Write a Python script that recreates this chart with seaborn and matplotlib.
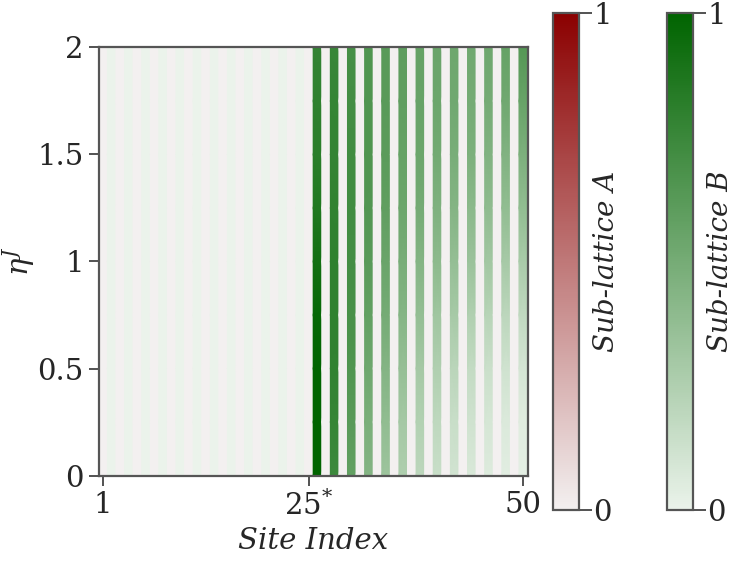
import numpy as np
import matplotlib
matplotlib.use("Agg")
import matplotlib.pyplot as plt
import seaborn as sns
from matplotlib.colors import Normalize
from matplotlib.cm import ScalarMappable

# Chain layout: 50 sites, sub-lattice A on odd sites, B on even sites
n_sites = 50
sites = np.arange(1, n_sites + 1)
sublattice_a_sites = sites[sites % 2 == 1]
sublattice_b_sites = sites[sites % 2 == 0]
edge_sites = [26, 28, 30, 32, 34, 36, 38, 40, 42, 44, 46, 48, 50]

# Coupling strength levels
eta_levels = [0.0, 0.25, 0.5, 0.75, 1.0, 1.25, 1.5, 1.75, 2.0]

# Normalised weight on sub-lattice B for the edge_sites, one row per eta level
weight_eta_000 = [1.00, 0.74, 0.58, 0.44, 0.33, 0.26, 0.20, 0.15, 0.11, 0.08, 0.06, 0.04, 0.03]
weight_eta_025 = [1.00, 0.77, 0.62, 0.48, 0.38, 0.30, 0.24, 0.19, 0.15, 0.12, 0.09, 0.07, 0.05]
weight_eta_050 = [1.00, 0.79, 0.66, 0.53, 0.44, 0.36, 0.30, 0.25, 0.21, 0.17, 0.14, 0.12, 0.10]
weight_eta_075 = [0.97, 0.80, 0.69, 0.58, 0.50, 0.43, 0.37, 0.32, 0.29, 0.25, 0.22, 0.20, 0.18]
weight_eta_100 = [0.92, 0.80, 0.71, 0.62, 0.55, 0.49, 0.44, 0.40, 0.37, 0.34, 0.31, 0.29, 0.28]
weight_eta_125 = [0.86, 0.79, 0.72, 0.65, 0.59, 0.54, 0.50, 0.46, 0.44, 0.41, 0.39, 0.38, 0.38]
weight_eta_150 = [0.82, 0.78, 0.72, 0.66, 0.61, 0.57, 0.54, 0.51, 0.49, 0.47, 0.45, 0.45, 0.47]
weight_eta_175 = [0.80, 0.77, 0.71, 0.66, 0.62, 0.59, 0.56, 0.54, 0.52, 0.50, 0.50, 0.52, 0.56]
weight_eta_200 = [0.78, 0.76, 0.70, 0.66, 0.62, 0.60, 0.57, 0.55, 0.53, 0.52, 0.53, 0.57, 0.64]

weight_rows = [weight_eta_000, weight_eta_025, weight_eta_050, weight_eta_075,
               weight_eta_100, weight_eta_125, weight_eta_150, weight_eta_175,
               weight_eta_200]

x_tick_sites = [1, 25, 50]
x_tick_labels = ["1", "25$^{*}$", "50"]
y_ticks = [0, 0.5, 1, 1.5, 2]
y_tick_labels = ["0", "0.5", "1", "1.5", "2"]

# Weight tables (eta x site) for both sub-lattices
eta = np.array(eta_levels)
weights_a = np.zeros((len(eta), n_sites))
weights_b = np.zeros((len(eta), n_sites))
for col, s in enumerate(edge_sites):
    weights_b[:, s - 1] = [row[col] for row in weight_rows]

sns.set_style("ticks")
plt.rcParams["font.family"] = ["DejaVu Serif"]
plt.rcParams["mathtext.fontset"] = "dejavuserif"

cmap_a = sns.light_palette("darkred", as_cmap=True)
cmap_b = sns.light_palette("darkgreen", as_cmap=True)
norm = Normalize(vmin=0, vmax=1)

fig = plt.figure(figsize=(7.33, 5.62), dpi=100)
ax = fig.add_axes([0.1348, 0.1539, 0.5849, 0.7616])
ax.set_facecolor(cmap_a(0.0))

# Each site is its own column; colours blend smoothly along eta
for s in sites:
    vals = weights_a[:, s - 1] if s in sublattice_a_sites else weights_b[:, s - 1]
    cmap = cmap_a if s in sublattice_a_sites else cmap_b
    X = np.column_stack([np.full_like(eta, s - 0.5), np.full_like(eta, s + 0.5)])
    Y = np.column_stack([eta, eta])
    C = np.column_stack([vals, vals])
    ax.pcolormesh(X, Y, C, cmap=cmap, norm=norm, shading="gouraud",
                  antialiased=False, rasterized=True)

ax.set_xlim(0.5, n_sites + 0.5)
ax.set_ylim(0, 2)
ax.set_xticks(x_tick_sites)
ax.set_xticklabels(x_tick_labels)
ax.set_yticks(y_ticks)
ax.set_yticklabels(y_tick_labels)
ax.tick_params(labelsize=21, length=7, width=1.3, color="#444444", pad=4)
for sp in ax.spines.values():
    sp.set_visible(True)
    sp.set_color("#555555")
    sp.set_linewidth(1.6)
ax.set_xlabel("Site Index", fontsize=21, style="italic", labelpad=4)
ax.set_ylabel(r"$\eta^{J}$", fontsize=21, labelpad=0)

# Colour bars for the two sub-lattices
def add_bar(x0, cmap, label):
    cax = fig.add_axes([x0, 0.0925, 0.036, 0.885])
    cb = fig.colorbar(ScalarMappable(norm=norm, cmap=cmap), cax=cax, ticks=[0, 1])
    cb.ax.set_yticklabels(["0", "1"])
    cb.ax.tick_params(labelsize=21, length=9, width=1.3, color="#444444", pad=1)
    cb.outline.set_edgecolor("#555555")
    cb.outline.set_linewidth(1.6)
    cb.set_label(label, fontsize=20, style="italic", labelpad=-13)
    return cb

add_bar(0.754, cmap_a, "Sub-lattice A")
add_bar(0.9096, cmap_b, "Sub-lattice B")

fig.savefig("out.png", dpi=100)
